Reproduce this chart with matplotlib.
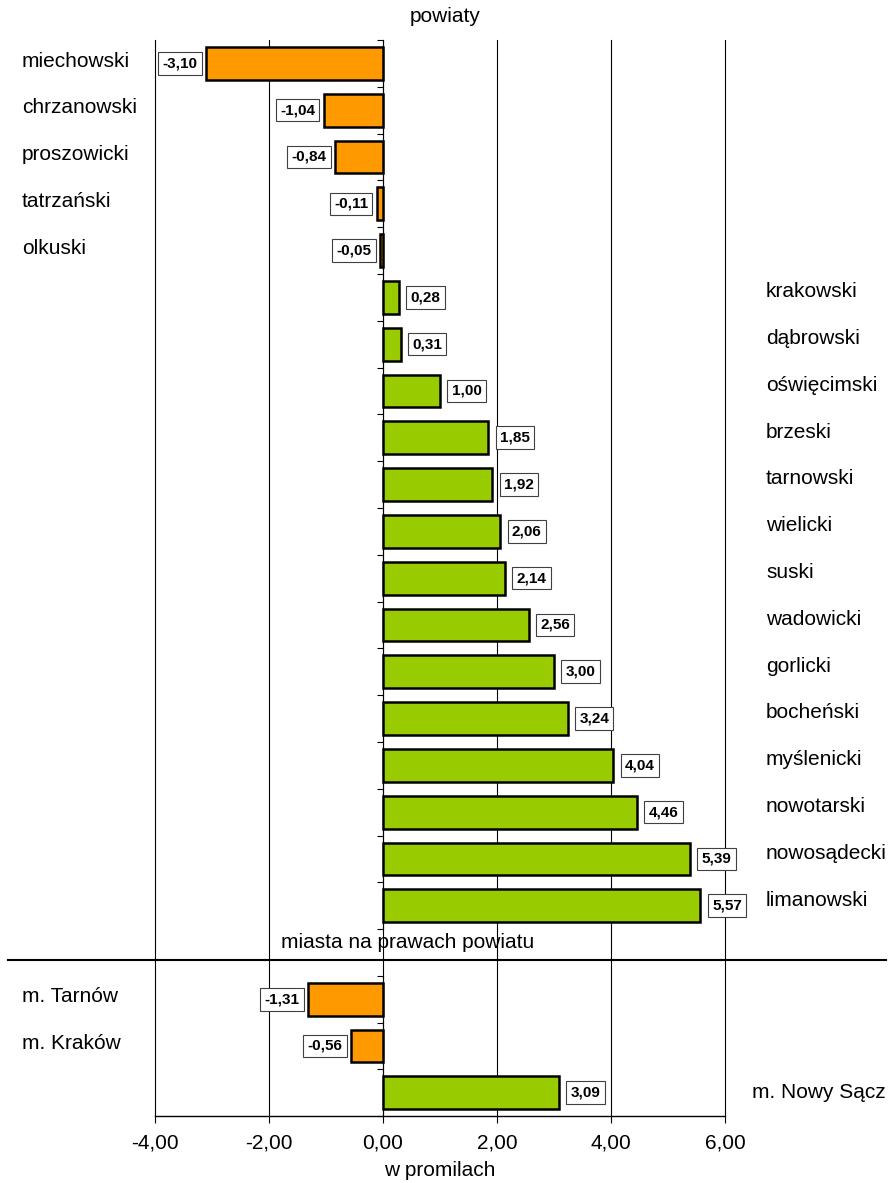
import matplotlib
matplotlib.use('Agg')
import matplotlib.pyplot as plt
from matplotlib.lines import Line2D
from matplotlib.ticker import FuncFormatter
import matplotlib.transforms as mtransforms

plt.rcParams['font.family'] = ['Liberation Sans', 'DejaVu Sans']
plt.rcParams['axes.unicode_minus'] = False

powiaty = ['miechowski', 'chrzanowski', 'proszowicki', 'tatrzański', 'olkuski',
           'krakowski', 'dąbrowski', 'oświęcimski', 'brzeski', 'tarnowski',
           'wielicki', 'suski', 'wadowicki', 'gorlicki', 'bocheński',
           'myślenicki', 'nowotarski', 'nowosądecki', 'limanowski']
powiaty_vals = [-3.10, -1.04, -0.84, -0.11, -0.05, 0.28, 0.31, 1.00, 1.85, 1.92,
                2.06, 2.14, 2.56, 3.00, 3.24, 4.04, 4.46, 5.39, 5.57]

miasta = ['m. Tarnów', 'm. Kraków', 'm. Nowy Sącz']
miasta_vals = [-1.31, -0.56, 3.09]

xticks = [-4, -2, 0, 2, 4, 6]

ORANGE = '#FF9900'
GREEN = '#99CC00'

W, H = 891, 1183
fig = plt.figure(figsize=(W / 100, H / 100), dpi=100)

# layout in pixels: row pitch ~46.8 px
ax_left, ax_right = 155, 725
top_ax = fig.add_axes([ax_left / W, 1 - 960 / H, (ax_right - ax_left) / W, 920 / H])
bot_ax = fig.add_axes([ax_left / W, 1 - 1116 / H, (ax_right - ax_left) / W, 156 / H])


def fmt(v):
    return f'{v:.2f}'.replace('.', ',')


def draw(ax, names, vals, ylim, right_x, label_dy):
    ys = list(range(len(vals)))
    colors = [GREEN if v > 0 else ORANGE for v in vals]
    ax.barh(ys, vals, height=0.7, color=colors, edgecolor='black', linewidth=1.8, zorder=3)
    ax.set_xlim(-4, 6)
    ax.set_ylim(*ylim)
    ax.set_xticks(xticks)
    ax.grid(axis='x', color='black', linewidth=0.8, zorder=0)
    for gl in ax.get_xgridlines():
        gl.set_clip_on(False)
    ax.set_yticks([y - 0.5 for y in ys] + [len(ys) - 0.5])
    ax.set_yticklabels([])
    ax.tick_params(axis='y', length=4, width=0.8, direction='out')
    for s in ['top', 'right']:
        ax.spines[s].set_visible(False)
    ax.spines['left'].set_position(('data', 0))
    ax.spines['left'].set_bounds(-0.5, len(ys) - 0.5)
    ax.spines['left'].set_linewidth(0.8)

    trans = mtransforms.blended_transform_factory(fig.transFigure, ax.transData)
    for y, name, v in zip(ys, names, vals):
        if v < 0:
            ax.annotate(fmt(v), (v, y), xytext=(-6.2, 0), textcoords='offset points',
                        ha='right', va='center', fontsize=11, fontweight='bold', zorder=4,
                        bbox=dict(boxstyle='square,pad=0.28', fc='white', ec='#404040', lw=0.8))
            ax.text(22 / W, y - 0.05, name, transform=trans, ha='left', va='center', fontsize=15)
        else:
            ax.annotate(fmt(v), (v, y), xytext=(8.3, 0), textcoords='offset points',
                        ha='left', va='center', fontsize=11, fontweight='bold', zorder=4,
                        bbox=dict(boxstyle='square,pad=0.28', fc='white', ec='#404040', lw=0.8))
            ax.text(right_x / W, y - label_dy, name, transform=trans, ha='left', va='center', fontsize=15)


draw(top_ax, powiaty, powiaty_vals, (19.16, -0.5), 766, 0.12)
top_ax.spines['bottom'].set_visible(False)
top_ax.tick_params(axis='x', length=0, labelbottom=False)

draw(bot_ax, miasta, miasta_vals, (2.5, -0.84), 752, 0.0)
bot_ax.spines['bottom'].set_linewidth(1.0)
bot_ax.tick_params(axis='x', length=5, width=0.8, pad=7.5, labelsize=15)
bot_ax.xaxis.set_major_formatter(FuncFormatter(lambda v, p: fmt(v)))
bot_ax.set_xlabel('w promilach', fontsize=15, labelpad=6)

fig.text(445 / W, 1 - 17 / H, 'powiaty', ha='center', va='center', fontsize=15)
fig.text(408 / W, 1 - 942 / H, 'miasta na prawach powiatu', ha='center', va='center', fontsize=15)
fig.add_artist(Line2D([8 / W, 886 / W], [1 - 960 / H, 1 - 960 / H], color='black', linewidth=1.5))

fig.savefig('out.png', dpi=100)
